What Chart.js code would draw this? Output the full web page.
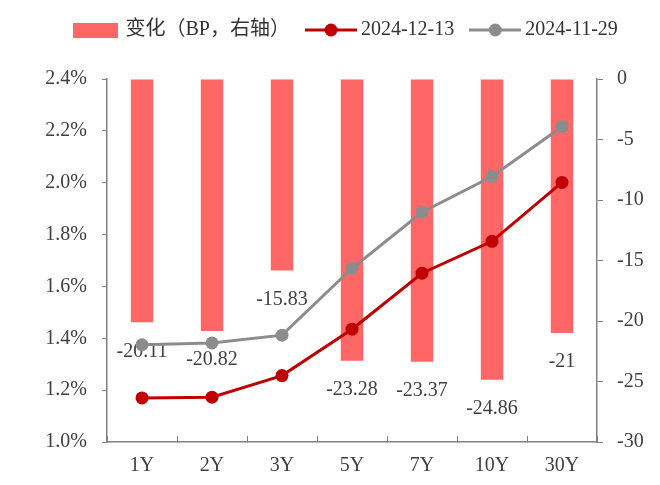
<!DOCTYPE html>
<html>
<head>
<meta charset="utf-8">
<title>国债收益率曲线变化</title>
<script src="https://cdn.jsdelivr.net/npm/chart.js@4.4.1/dist/chart.umd.min.js"></script>
<style>
  html, body { margin: 0; padding: 0; background: #fff; }
</style>
</head>
<body>
<canvas id="curveChart" width="660" height="485"></canvas>
<script>
const categories = ['1Y', '2Y', '3Y', '5Y', '7Y', '10Y', '30Y'];
const changeBp = [-20.11, -20.82, -15.83, -23.28, -23.37, -24.86, -21];
const yield1213 = [1.170, 1.173, 1.256, 1.435, 1.651, 1.774, 2.001];
const yield1129 = [1.375, 1.382, 1.412, 1.670, 1.886, 2.024, 2.216];
const leftTicks = [1.0, 1.2, 1.4, 1.6, 1.8, 2.0, 2.2, 2.4];
const rightTicks = [-30, -25, -20, -15, -10, -5, 0];

const BAR_COLOR = '#FF6666';
const RED = '#C00000';
const GREY = '#8C8C8C';
const AXIS = '#808080';
const TEXT = '#404040';
const FONT = "'Liberation Serif', 'Noto Sans CJK SC', serif";
const FONT_SIZE = 20;

// little canvases used as legend symbols
function barSymbol() {
    const c = document.createElement('canvas');
    c.width = 45; c.height = 15;
    const g = c.getContext('2d');
    g.fillStyle = BAR_COLOR;
    g.fillRect(0, 0, 45, 15);
    return c;
}

function lineSymbol(color) {
    const c = document.createElement('canvas');
    c.width = 52; c.height = 14;
    const g = c.getContext('2d');
    g.strokeStyle = color;
    g.lineWidth = 3;
    g.beginPath();
    g.moveTo(0, 7);
    g.lineTo(52, 7);
    g.stroke();
    g.fillStyle = color;
    g.beginPath();
    g.arc(26, 7, 6.5, 0, Math.PI * 2);
    g.fill();
    return c;
}

// bar value labels, drawn below each bar end, before the lines go on top
const barLabels = {
    id: 'barLabels',
    afterDatasetDraw(chart, args) {
        if (args.index !== 0) return;
        const ctx = chart.ctx;
        ctx.save();
        ctx.font = FONT_SIZE + 'px ' + FONT;
        ctx.fillStyle = TEXT;
        ctx.textAlign = 'center';
        ctx.textBaseline = 'middle';
        args.meta.data.forEach((bar, i) => {
            ctx.fillText(String(changeBp[i]), bar.x, bar.y + 29);
        });
        ctx.restore();
    }
};

// move the legend: start it at x=73 and lift it above the extra top padding
const legendShift = {
    id: 'legendShift',
    afterLayout(chart) {
        const lg = chart.legend;
        const pad = lg.options.labels.padding;
        const startX = (lg.left + pad + lg.right - lg.lineWidths[0]) / 2;
        const dx = 75.5 - startX;
        lg.left += dx;
        lg.right += dx;
        lg.top -= 29;
        lg.bottom -= 29;
    }
};

const curveChart = new Chart(document.getElementById('curveChart'), {
    type: 'bar',
    data: {
        labels: categories,
        datasets: [
            {
                label: '变化（BP，右轴）',
                data: changeBp,
                yAxisID: 'y1',
                backgroundColor: BAR_COLOR,
                categoryPercentage: 1,
                barPercentage: 0.32,
                order: 3,
                legendSymbol: barSymbol()
            },
            {
                type: 'line',
                label: '2024-12-13',
                data: yield1213,
                yAxisID: 'y',
                borderColor: RED,
                backgroundColor: RED,
                borderWidth: 3,
                pointRadius: 6.5,
                pointBackgroundColor: RED,
                pointBorderWidth: 0,
                order: 1,
                legendSymbol: lineSymbol(RED)
            },
            {
                type: 'line',
                label: '2024-11-29',
                data: yield1129,
                yAxisID: 'y',
                borderColor: GREY,
                backgroundColor: GREY,
                borderWidth: 3,
                pointRadius: 6.5,
                pointBackgroundColor: GREY,
                pointBorderWidth: 0,
                order: 2,
                legendSymbol: lineSymbol(GREY)
            }
        ]
    },
    options: {
        responsive: false,
        animation: false,
        devicePixelRatio: 1,
        layout: { padding: { top: 28, left: 0, right: 0, bottom: 0 } },
        plugins: {
            tooltip: { enabled: false },
            legend: {
                position: 'top',
                labels: {
                    usePointStyle: true,
                    pointStyleWidth: 40,
                    padding: 21,
                    color: '#333',
                    font: { family: FONT, size: FONT_SIZE },
                    generateLabels(chart) {
                        return chart.data.datasets.map((ds, i) => ({
                            text: ds.label,
                            pointStyle: ds.legendSymbol,
                            fillStyle: ds.backgroundColor,
                            strokeStyle: ds.backgroundColor,
                            lineWidth: 0,
                            fontColor: '#333',
                            hidden: false,
                            datasetIndex: i
                        }));
                    }
                }
            }
        },
        scales: {
            x: {
                offset: true,
                grid: { offset: true, drawOnChartArea: false, color: AXIS, tickLength: -6 },
                border: { color: AXIS, width: 1.5 },
                ticks: { color: TEXT, padding: 18, font: { family: FONT, size: FONT_SIZE } },
                afterFit(scale) { scale.height = 43; }
            },
            y: {
                position: 'left',
                min: leftTicks[0],
                max: leftTicks[leftTicks.length - 1],
                afterBuildTicks(scale) { scale.ticks = leftTicks.map(v => ({ value: v })); },
                grid: { drawOnChartArea: false, color: AXIS, tickLength: 5 },
                border: { color: AXIS, width: 1.5 },
                ticks: {
                    color: TEXT,
                    padding: 15,
                    font: { family: FONT, size: FONT_SIZE },
                    callback: v => v.toFixed(1) + '%'
                },
                afterFit(scale) { scale.width = 107; }
            },
            y1: {
                position: 'right',
                min: rightTicks[0],
                max: rightTicks[rightTicks.length - 1],
                afterBuildTicks(scale) { scale.ticks = rightTicks.map(v => ({ value: v })); },
                grid: { drawOnChartArea: false, color: AXIS, tickLength: 6 },
                border: { color: AXIS, width: 1.5 },
                ticks: {
                    color: TEXT,
                    padding: 14,
                    font: { family: FONT, size: FONT_SIZE },
                    callback: v => String(v)
                },
                afterFit(scale) { scale.width = 63; }
            }
        }
    },
    plugins: [barLabels, legendShift]
});
</script>
</body>
</html>
